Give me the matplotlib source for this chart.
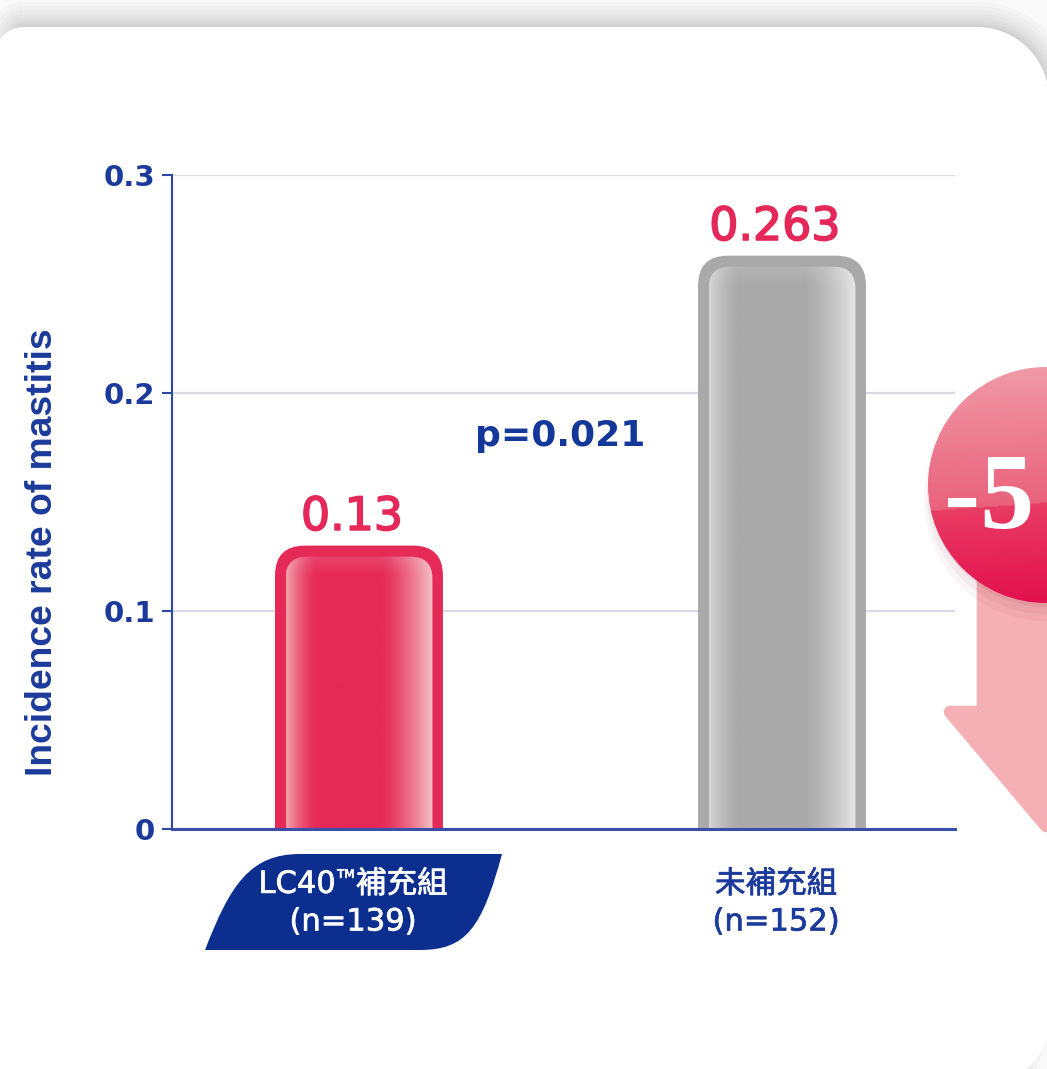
import matplotlib
matplotlib.use('Agg')
import matplotlib.pyplot as plt
import matplotlib.patheffects as pe
import matplotlib.transforms as mtransforms
import numpy as np
from matplotlib.patches import FancyBboxPatch, PathPatch, Circle
from matplotlib.path import Path
from matplotlib.colors import to_rgb

# data
categories = ['LC40™補充組\n(n=139)', '未補充組\n(n=152)']
values = [0.13, 0.263]
value_labels = ['0.13', '0.263']
p_text = 'p=0.021'
yticks = [0, 0.1, 0.2, 0.3]
ytick_labels = ['0', '0.1', '0.2', '0.3']
ylabel = 'Incidence rate of mastitis'
badge_text = '-5'

NAVY = '#0c2f8f'
BLUE = '#1b3a9b'
RED = '#e52a57'
GRAY = '#a9a9a9'
LABEL_FONT = ['DejaVu Sans', 'Noto Sans CJK TC']

W, H = 1047, 1069
fig = plt.figure(figsize=(W / 100, H / 100), dpi=100)
fig.patch.set_facecolor('#f9f9f9')

# background card (pixel coordinates, y down)
bg = fig.add_axes([0, 0, 1, 1])
bg.set_xlim(0, W)
bg.set_ylim(H, 0)
bg.axis('off')
bg.set_zorder(0)


def card_path(x0, y0, x1, y1, r_tl, r_tr, r_br, r_bl):
    k = 0.5523
    v = [(x0 + r_tl, y0), (x1 - r_tr, y0),
         (x1 - r_tr + k * r_tr, y0), (x1, y0 + r_tr - k * r_tr), (x1, y0 + r_tr),
         (x1, y1 - r_br),
         (x1, y1 - r_br + k * r_br), (x1 - r_br + k * r_br, y1), (x1 - r_br, y1),
         (x0 + r_bl, y1),
         (x0 + r_bl - k * r_bl, y1), (x0, y1 - r_bl + k * r_bl), (x0, y1 - r_bl),
         (x0, y0 + r_tl),
         (x0, y0 + r_tl - k * r_tl), (x0 + r_tl - k * r_tl, y0), (x0 + r_tl, y0),
         (x0 + r_tl, y0)]
    c = [Path.MOVETO, Path.LINETO, Path.CURVE4, Path.CURVE4, Path.CURVE4,
         Path.LINETO, Path.CURVE4, Path.CURVE4, Path.CURVE4,
         Path.LINETO, Path.CURVE4, Path.CURVE4, Path.CURVE4,
         Path.LINETO, Path.CURVE4, Path.CURVE4, Path.CURVE4, Path.CLOSEPOLY]
    return Path(v, c)


cp = card_path(-6, 27, 1049, 1082, 30, 72, 60, 30)
for lw in [36, 30, 24, 19, 14, 10, 6, 3]:
    bg.add_patch(PathPatch(cp, facecolor='none', edgecolor='black', lw=lw, alpha=0.02))
bg.add_patch(PathPatch(cp, facecolor='white', edgecolor='none'))

# label box for the first category (under the text)
lb = Path([(205, 950), (230, 885), (250, 854), (300, 854), (502, 854),
           (482, 928), (466, 950), (420, 950), (205, 950), (205, 950)],
          [Path.MOVETO, Path.CURVE4, Path.CURVE4, Path.CURVE4, Path.LINETO,
           Path.CURVE4, Path.CURVE4, Path.CURVE4, Path.LINETO, Path.CLOSEPOLY])
bg.add_patch(PathPatch(lb, facecolor=NAVY, edgecolor='none'))

# chart axes
ax = fig.add_axes([172 / W, 1 - 829 / H, (955 - 172) / W, (829 - 175) / H])
ax.set_zorder(1)
ax.patch.set_alpha(0)
x_pos = np.arange(len(categories))
xlim = (-0.442, 1.409)
ax.set_xlim(*xlim)
ax.set_ylim(0, 0.3)

for s in ['top', 'right']:
    ax.spines[s].set_visible(False)
ax.spines['left'].set_color('#2c47a5')
ax.spines['left'].set_linewidth(1.5)
ax.spines['bottom'].set_color('#3a4ea6')
ax.spines['bottom'].set_linewidth(2.2)
ax.spines['bottom'].set_zorder(4)

ax.set_yticks(yticks, ytick_labels)
ax.tick_params(axis='y', length=7, width=1.5, color='#2c47a5', labelcolor=BLUE,
               labelsize=21, pad=5)
for lab in ax.get_yticklabels():
    lab.set_fontweight('bold')
ax.yaxis.grid(True, color='#d9dae3', lw=1.6)
ax.set_axisbelow(True)
ax.set_xticks([])

ax.set_ylabel(ylabel, fontsize=26.8, fontweight='bold', color=BLUE, family='Liberation Sans')
ax.yaxis.set_label_coords(-0.1425, 0.4235)

# rounded bars
px_x = ax.transData.transform((1, 0))[0] - ax.transData.transform((0, 0))[0]
px_y = ax.transData.transform((0, 1))[1] - ax.transData.transform((0, 0))[1]
aspect = px_x / px_y
bar_w = 0.397


def grad_img(base, left, right, n=300, rows=200, top_frac=0.05):
    t = np.linspace(0, 1, n)
    wl = np.clip(1 - t / 0.22, 0, 1) ** 1.6
    wr = np.clip((t - 0.64) / 0.36, 0, 1) ** 1.4
    b, l, r = np.array(to_rgb(base)), np.array(to_rgb(left)), np.array(to_rgb(right))
    row = b * (1 - wl - wr)[:, None] + l * wl[:, None] + r * wr[:, None]
    img = np.repeat(row[None, :, :], rows, axis=0)
    s = np.linspace(0, 1, rows)
    wt = np.clip((s - (1 - top_frac)) / top_frac, 0, 1)[:, None, None] * 0.12
    img = img * (1 - wt) + wt
    return img


styles = [(RED, '#f2a3ad', '#f6c2c7'), (GRAY, '#d6d6d6', '#e6e6e6')]
stroke_red = [pe.withStroke(linewidth=1.2, foreground='#e5285a')]
renderer = fig.canvas.get_renderer()
for i, (xi, v) in enumerate(zip(x_pos, values)):
    base, lc, rc = styles[i]
    r_out = 30 / px_x
    outer = FancyBboxPatch((xi - bar_w / 2, -0.02), bar_w, v + 0.02,
                           boxstyle=f'round,pad=0,rounding_size={r_out}',
                           mutation_aspect=aspect, facecolor=base, edgecolor='none', zorder=2)
    ax.add_patch(outer)
    ins_x = 10.5 / px_x
    ins_y = 11 / px_y
    r_in = 22 / px_x
    x0 = xi - bar_w / 2 + ins_x
    x1 = xi + bar_w / 2 - ins_x
    y1 = v - ins_y
    inner = FancyBboxPatch((x0, -0.02), x1 - x0, y1 + 0.02,
                           boxstyle=f'round,pad=0,rounding_size={r_in}',
                           mutation_aspect=aspect, facecolor=base, edgecolor='none', zorder=2.1)
    ax.add_patch(inner)
    inner_px = (y1 + 0.02) * px_y
    im = ax.imshow(grad_img(base, lc, rc, top_frac=18 / inner_px), extent=(x0, x1, -0.02, y1),
                   origin='lower', aspect='auto', zorder=2.2, interpolation='bilinear')
    im.set_clip_path(inner)
    ax.text(xi - 7 / px_x, v + 0.0072, value_labels[i], ha='center', va='baseline',
            fontsize=33, color='#e5285a', family='DejaVu Sans', zorder=3,
            path_effects=stroke_red)

    # category labels (first line split so that ™ is a small superscript)
    col = 'white' if i == 0 else BLUE
    eff = [pe.withStroke(linewidth=0.5, foreground=col)]
    line1, line2 = categories[i].split('\n')
    base_tr = ax.get_xaxis_transform()
    cx_shift = -6
    ax.text(xi, -0.120, line2, ha='center', va='top', fontsize=22, family=LABEL_FONT,
            color=col, path_effects=eff, clip_on=False,
            transform=mtransforms.offset_copy(base_tr, fig, x=cx_shift, y=0, units='dots'))
    if '™' in line1:
        a, b = line1.split('™')
        pieces = [(a, 22, 0), ('TM', 8.5, -2), (b, 22, 0)]
    else:
        pieces = [(line1, 22, 0)]
    texts = []
    for s, fs, dy in pieces:
        t = ax.text(xi, -0.0625, s, ha='left', va='top', fontsize=fs, family=LABEL_FONT,
                    color=col, path_effects=eff, clip_on=False, transform=base_tr)
        texts.append((t, dy))
    widths = [t.get_window_extent(renderer).width for t, _ in texts]
    gaps = [0] + [1.5] * (len(texts) - 1)
    total = sum(widths) + sum(gaps)
    x_off = cx_shift - total / 2
    for (t, dy), w, g in zip(texts, widths, gaps):
        x_off += g
        t.set_transform(mtransforms.offset_copy(base_tr, fig, x=x_off, y=-dy, units='dots'))
        x_off += w

ax.set_xlim(*xlim)
ax.set_ylim(0, 0.3)
ax.text(0.4753, 0.1757, p_text, ha='center', va='baseline', fontsize=26,
        fontweight='bold', color='#13389a', zorder=3)

# overlay decorations in pixel coordinates
ov = fig.add_axes([0, 0, 1, 1])
ov.set_xlim(0, W)
ov.set_ylim(H, 0)
ov.axis('off')
ov.set_zorder(2)

# arrow
arrow = Path([(983, 560), (983, 712), (950, 712), (1046, 826), (1141, 712),
              (1108, 712), (1108, 560), (983, 560)],
             [Path.MOVETO] + [Path.LINETO] * 6 + [Path.CLOSEPOLY])
ov.add_patch(PathPatch(arrow, facecolor='#f4b0b4', edgecolor='#f4b0b4', lw=9,
                       joinstyle='round', zorder=1))

# badge
cx, cy, rad = 1046, 485, 118
for dr, dy, a in [(4, 14, 0.035), (1, 10, 0.05), (-2, 6, 0.07)]:
    ov.add_patch(Circle((cx, cy + dy), rad + dr, facecolor='#8a1838', edgecolor='none',
                        alpha=a, zorder=2))
n = 240
gx, gy = np.meshgrid(np.linspace(cx - rad, cx + rad, n), np.linspace(cy - rad, cy + rad, n))
boundary = 511 - (gx - 930) * 0.07
upper = gy < boundary
tu = np.clip((gy - (cy - rad)) / (boundary - (cy - rad)), 0, 1)
tl = np.clip((gy - boundary) / ((cy + rad) - boundary + 1e-9), 0, 1)
c_top, c_mid = np.array(to_rgb('#f09aa7')), np.array(to_rgb('#e9627c'))
c_low1, c_low2 = np.array(to_rgb('#e93c64')), np.array(to_rgb('#e2114e'))
img = np.where(upper[..., None],
               c_top * (1 - tu[..., None]) + c_mid * tu[..., None],
               c_low1 * (1 - tl[..., None]) + c_low2 * tl[..., None])
circ = Circle((cx, cy), rad, facecolor='none', edgecolor='none', zorder=3)
ov.add_patch(circ)
bim = ov.imshow(img, extent=(cx - rad, cx + rad, cy + rad, cy - rad), origin='upper',
                aspect='auto', zorder=3, interpolation='bilinear')
bim.set_clip_path(circ)
ov.text(944, 528, badge_text, color='white', fontsize=78, family='Liberation Serif',
        fontweight='bold', ha='left', va='baseline', zorder=4)
ov.set_xlim(0, W)
ov.set_ylim(H, 0)

fig.savefig('out.png', dpi=100, facecolor=fig.get_facecolor())
